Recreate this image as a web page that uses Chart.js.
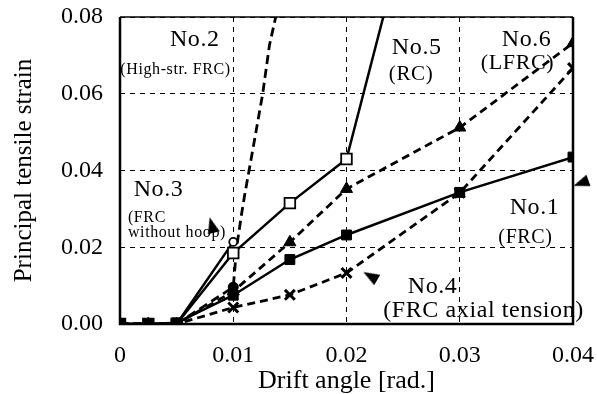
<!DOCTYPE html>
<html>
<head>
<meta charset="utf-8">
<script src="https://cdn.jsdelivr.net/npm/chart.js@4"></script>
<style>
  html, body { margin: 0; padding: 0; background: #fff; }
  #wrap { width: 597px; height: 394px; }
</style>
</head>
<body>
<div id="wrap"><canvas id="strainChart" width="597" height="394"></canvas></div>
<script>
// drift angle steps used by most specimens
const driftX = [0, 0.0025, 0.005, 0.01, 0.015, 0.02, 0.03, 0.04];
const no1Y = [0, 0, 0.0003, 0.0075, 0.0168, 0.0232, 0.0343, 0.0435];
const no4Y = [0, 0, 0, 0.0043, 0.0076, 0.0133, 0.0342, 0.0667];
const no6Y = [0, 0, 0, 0.0085, 0.0213, 0.0352, 0.0512, 0.0732];
// No.5 runs off the top of the chart
const no5X = [0, 0.0025, 0.005, 0.01, 0.015, 0.02, 0.025];
const no5Y = [0, 0, 0, 0.0185, 0.0315, 0.043, 0.1];
const no3X = [0, 0.0025, 0.005, 0.01];
const no3Y = [0, 0, 0, 0.0214];
// No.2 shoots up just after 0.01 rad
const no2X = [0, 0.0025, 0.005, 0.01, 0.0103, 0.0107, 0.011, 0.0117, 0.0126, 0.0132, 0.0139];
const no2Y = [0, 0, 0, 0.0096, 0.02, 0.028, 0.0335, 0.045, 0.06, 0.0727, 0.082];
// arrow heads of the label leaders
const arrowX = [0.0081, 0.0221, 0.0407];
const arrowY = [0.0258, 0.0125, 0.0367];

const xTicks = [0, 0.01, 0.02, 0.03, 0.04];
const yTicks = [0, 0.02, 0.04, 0.06, 0.08];

const labels = [
    {text: 'No.2', x: 0.0066, y: 0.0740, size: 24},
    {text: '(High-str. FRC)', x: 0.0049, y: 0.0662, size: 16},
    {text: 'No.3', x: 0.0034, y: 0.0349, size: 24},
    {text: '(FRC', x: 0.0007, y: 0.0276, size: 16, align: 'left'},
    {text: 'without hoop)', x: 0.0007, y: 0.0237, size: 16, align: 'left'},
    {text: 'No.5', x: 0.0262, y: 0.0719, size: 24},
    {text: '(RC)', x: 0.0257, y: 0.0651, size: 21},
    {text: 'No.6', x: 0.0359, y: 0.0740, size: 24},
    {text: '(LFRC)', x: 0.0351, y: 0.0680, size: 22},
    {text: 'No.1', x: 0.0366, y: 0.0302, size: 24},
    {text: '(FRC)', x: 0.0358, y: 0.0224, size: 20},
    {text: 'No.4', x: 0.0276, y: 0.0096, size: 24},
    {text: '(FRC axial tension)', x: 0.0321, y: 0.0034, size: 24}
];

function pts(xs, ys) {
    return xs.map(function (x, i) { return {x: x, y: ys[i]}; });
}

const FONT = "'Liberation Serif', 'Times New Roman', serif";

// narrow arrowhead used as point style (points up before rotation)
const arrowHead = document.createElement('canvas');
arrowHead.width = 14;
arrowHead.height = 16;
(function () {
    const c = arrowHead.getContext('2d');
    c.fillStyle = '#000';
    c.beginPath();
    c.moveTo(7, 0);
    c.lineTo(13, 16);
    c.lineTo(1, 16);
    c.closePath();
    c.fill();
})();

const framePlugin = {
    id: 'frame',
    beforeDatasetsDraw: function (chart) {
        const a = chart.chartArea, ctx = chart.ctx;
        ctx.save();
        ctx.strokeStyle = '#000';
        ctx.lineWidth = 1.5;
        ctx.beginPath();
        ctx.moveTo(a.left, a.top);
        ctx.lineTo(a.right, a.top);
        ctx.stroke();
        ctx.lineWidth = 2.5;
        ctx.beginPath();
        ctx.moveTo(a.left, a.top);
        ctx.lineTo(a.left, a.bottom);
        ctx.lineTo(a.right, a.bottom);
        ctx.lineTo(a.right, a.top);
        ctx.stroke();
        ctx.restore();
    }
};

const labelPlugin = {
    id: 'labels',
    afterDatasetsDraw: function (chart) {
        const ctx = chart.ctx, sx = chart.scales.x, sy = chart.scales.y;
        ctx.save();
        ctx.fillStyle = '#000';
        ctx.textBaseline = 'middle';
        ctx.letterSpacing = '0.6px';
        labels.forEach(function (l) {
            ctx.font = l.size + 'px ' + FONT;
            ctx.textAlign = l.align || 'center';
            ctx.fillText(l.text, sx.getPixelForValue(l.x), sy.getPixelForValue(l.y));
        });
        ctx.restore();
    }
};

new Chart(document.getElementById('strainChart'), {
    type: 'line',
    data: {
        datasets: [{
            label: 'No.1',
            data: pts(driftX, no1Y),
            borderColor: '#000',
            backgroundColor: '#000',
            borderWidth: 2.5,
            pointStyle: 'rect',
            pointRadius: 7,
            pointBorderWidth: 1
        }, {
            label: 'No.5',
            data: pts(no5X, no5Y),
            borderColor: '#000',
            backgroundColor: '#fff',
            borderWidth: 2.5,
            pointStyle: 'rect',
            pointRadius: 7.5,
            pointBorderWidth: 1.8
        }, {
            label: 'No.3',
            data: pts(no3X, no3Y),
            borderColor: '#000',
            backgroundColor: '#fff',
            borderWidth: 2.5,
            pointStyle: 'circle',
            pointRadius: 4,
            pointBorderWidth: 1.8
        }, {
            label: 'No.6',
            data: pts(driftX, no6Y),
            borderColor: '#000',
            backgroundColor: '#000',
            borderWidth: 2.8,
            borderDash: [8, 5],
            pointStyle: 'triangle',
            pointRadius: 7,
            pointBorderWidth: 1
        }, {
            label: 'No.4',
            data: pts(driftX, no4Y),
            borderColor: '#000',
            backgroundColor: '#000',
            borderWidth: 2.8,
            borderDash: [8, 5],
            pointStyle: 'crossRot',
            pointRadius: 7,
            pointBorderWidth: 3
        }, {
            label: 'No.2',
            data: pts(no2X, no2Y),
            borderColor: '#000',
            backgroundColor: '#000',
            borderWidth: 2.8,
            borderDash: [9, 5],
            pointStyle: 'circle',
            pointRadius: [5, 5, 5, 5, 0, 0, 0, 0, 0, 0, 0],
            pointBorderWidth: 1
        }, {
            label: 'arrows',
            data: pts(arrowX, arrowY),
            showLine: false,
            clip: false,
            pointStyle: arrowHead,
            pointRadius: 8,
            pointRotation: [345, 300, 250]
        }]
    },
    options: {
        responsive: false,
        animation: false,
        layout: {padding: {left: 0, top: 17, right: 24, bottom: 0}},
        plugins: {legend: {display: false}, tooltip: {enabled: false}},
        scales: {
            x: {
                type: 'linear',
                min: 0,
                max: 0.04,
                afterFit: function (s) {
                    s.height = 70;
                    s.paddingLeft = 0;
                    s.paddingRight = 0;
                },
                afterBuildTicks: function (s) { s.ticks = xTicks.map(function (v) { return {value: v}; }); },
                ticks: {
                    padding: 17,
                    color: '#000',
                    font: {family: FONT, size: 24},
                    callback: function (v) { return v === 0 ? '0' : v.toFixed(2); }
                },
                grid: {color: '#000', lineWidth: 1, drawTicks: false},
                border: {display: false, dash: [5, 5]},
                title: {
                    display: true,
                    text: 'Drift angle [rad.]',
                    color: '#000',
                    font: {family: FONT, size: 26, lineHeight: 1},
                    padding: {top: 0, bottom: 0}
                }
            },
            y: {
                min: 0,
                max: 0.08,
                afterFit: function (s) {
                    s.width = 120;
                    s.paddingTop = 0;
                    s.paddingBottom = 0;
                },
                afterBuildTicks: function (s) { s.ticks = yTicks.map(function (v) { return {value: v}; }); },
                ticks: {
                    padding: 17,
                    color: '#000',
                    font: {family: FONT, size: 24},
                    callback: function (v) { return v.toFixed(2); }
                },
                grid: {color: '#000', lineWidth: 1, drawTicks: false},
                border: {display: false, dash: [5, 5]},
                title: {
                    display: true,
                    text: 'Principal tensile strain',
                    color: '#000',
                    font: {family: FONT, size: 25, lineHeight: 1},
                    padding: {top: 12, bottom: 0}
                }
            }
        }
    },
    plugins: [framePlugin, labelPlugin]
});
</script>
</body>
</html>
